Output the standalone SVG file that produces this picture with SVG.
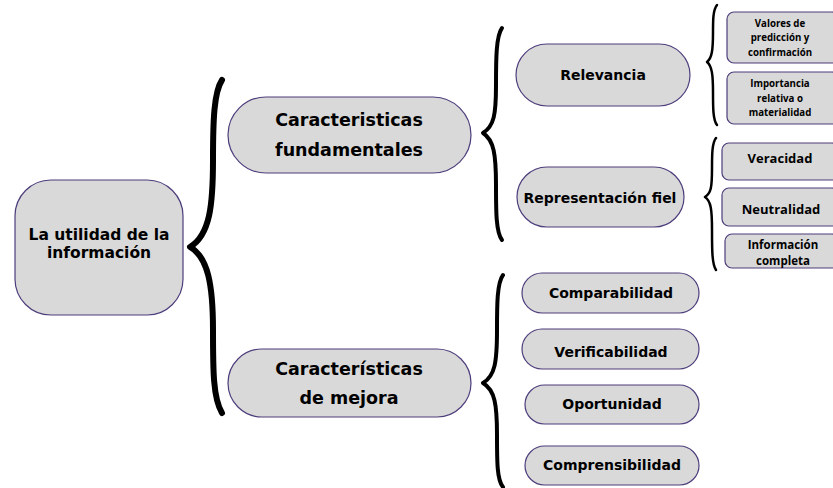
<svg xmlns="http://www.w3.org/2000/svg" width="833" height="488" viewBox="0 0 833 488">
<style>
.n{fill:#d9d9d9;stroke:#4e3d7c;stroke-width:1.2}
.t{font-family:"DejaVu Sans","Liberation Sans",sans-serif;font-weight:bold;fill:#000;text-anchor:middle;dominant-baseline:central}
.s{font-family:"Open Sans","Liberation Sans",sans-serif;font-weight:bold;fill:#000;text-anchor:middle;dominant-baseline:central}
.b{fill:none;stroke:#000;stroke-linecap:round;stroke-linejoin:round}
</style>
<rect width="833" height="488" fill="#fff"/>
<g id="connectors">
<path class="b" stroke-width="6" d="M222,80 C214,92 213,120 213,160 C213,205 210,235 190,247 C208,257 213,285 213,330 C213,370 213,398 222,413"/>
<path class="b" stroke-width="4" d="M502,28 C496,36 496,60 496,85 C496,115 494,126 483,133 C494,140 496,155 496,185 C496,212 496,232 502,240"/>
<path class="b" stroke-width="4" d="M503,275 C497,283 497,305 497,330 C497,362 495,376 483,383 C495,390 497,405 497,435 C497,462 497,480 503,487"/>
<path class="b" stroke-width="2.5" d="M717,5 C713,10 713,20 713,32 C713,50 712,58 707,62 C712,66 713,75 713,92 C713,108 713,120 717,125"/>
<path class="b" stroke-width="2.5" d="M716,138 C712,143 712,155 712,168 C712,188 711,193 705,197 C711,201 712,210 712,230 C712,250 712,264 716,270"/>
</g>
<g id="root">
<rect class="n" x="15" y="180" width="168" height="135" rx="36"/>
<text class="t" font-size="15.5" x="99" y="235">La utilidad de la</text>
<text class="t" font-size="15.5" x="99" y="253">información</text>
</g>
<g id="fundamentales">
<rect class="n" x="228" y="97" width="243" height="76" rx="38"/>
<text class="t" font-size="17.5" x="349" y="120">Caracteristicas</text>
<text class="t" font-size="17.5" x="349" y="150">fundamentales</text>
</g>
<g id="mejora">
<rect class="n" x="228" y="349" width="243" height="68" rx="34"/>
<text class="t" font-size="17.5" x="349" y="369">Características</text>
<text class="t" font-size="17.5" x="349" y="398">de mejora</text>
</g>
<g id="relevancia">
<rect class="n" x="516" y="44" width="174" height="62" rx="31"/>
<text class="t" font-size="14" x="603" y="75">Relevancia</text>
</g>
<g id="representacion">
<rect class="n" x="517" y="167" width="167" height="60" rx="30"/>
<text class="t" font-size="14" x="600" y="198">Representación fiel</text>
</g>
<g id="comparabilidad">
<rect class="n" x="522" y="273" width="177" height="40" rx="20"/>
<text class="t" font-size="14" x="611" y="293">Comparabilidad</text>
</g>
<g id="verificabilidad">
<rect class="n" x="522" y="329" width="177" height="40" rx="20"/>
<text class="t" font-size="14" x="611" y="352">Verificabilidad</text>
</g>
<g id="oportunidad">
<rect class="n" x="525" y="385" width="174" height="39" rx="19.5"/>
<text class="t" font-size="14" x="612" y="404">Oportunidad</text>
</g>
<g id="comprensibilidad">
<rect class="n" x="525" y="446" width="174" height="39" rx="19.5"/>
<text class="t" font-size="14" x="612" y="465">Comprensibilidad</text>
</g>
<g id="valores">
<rect class="n" x="727" y="12" width="112" height="51" rx="7"/>
<text class="s" font-size="9.7" x="780" y="23">Valores de</text>
<text class="s" font-size="9.7" x="780" y="37">predicción y</text>
<text class="s" font-size="9.7" x="780" y="52">confirmación</text>
</g>
<g id="importancia">
<rect class="n" x="727" y="72" width="112" height="52" rx="7"/>
<text class="s" font-size="9.7" x="780" y="83">Importancia</text>
<text class="s" font-size="9.7" x="780" y="98">relativa o</text>
<text class="s" font-size="9.7" x="780" y="112">materialidad</text>
</g>
<g id="veracidad">
<rect class="n" x="722" y="143" width="117" height="37" rx="7"/>
<text class="s" font-size="13" x="780" y="158">Veracidad</text>
</g>
<g id="neutralidad">
<rect class="n" x="722" y="188" width="117" height="38" rx="7"/>
<text class="s" font-size="13" x="781" y="209">Neutralidad</text>
</g>
<g id="informacion">
<rect class="n" x="725" y="234" width="114" height="34" rx="7"/>
<text class="s" font-size="11.5" x="783" y="244">Información</text>
<text class="s" font-size="11.5" x="783" y="260">completa</text>
</g>
</svg>
